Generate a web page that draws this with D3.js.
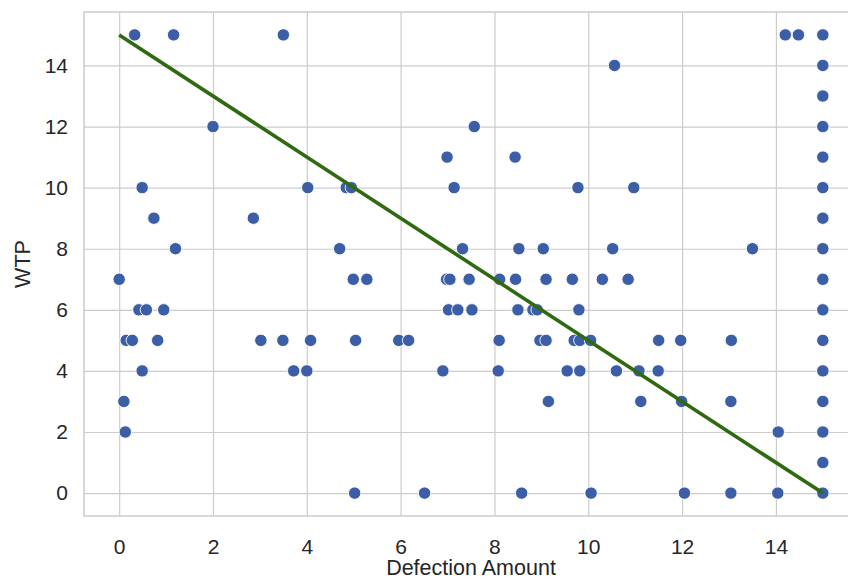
<!DOCTYPE html>
<html>
<head>
<meta charset="utf-8">
<script src="https://cdn.jsdelivr.net/npm/d3@7"></script>
<style>
  body { margin: 0; background: #fff; }
  svg { display: block; font-family: "Liberation Sans", Arial, sans-serif; }
  .grid line { stroke: #cccccc; stroke-width: 1.2; }
  .tick text { fill: #262626; font-size: 21px; }
</style>
</head>
<body>
<svg width="848" height="581"></svg>
<script>
// defection amount / WTP pairs
var defection = [
  0.33, 1.16, 3.5, 14.2, 14.48, 15,
  10.56, 15,
  15,
  2.0, 7.57, 15,
  6.99, 8.44, 15,
  0.49, 4.02, 4.84, 4.95, 7.14, 9.78, 10.97, 15,
  0.74, 2.86, 15,
  1.2, 4.7, 7.32, 8.52, 9.04, 10.52, 13.5, 15,
  0.0, 4.99, 5.28, 6.98, 7.05, 7.46, 8.11, 8.45, 9.1, 9.66, 10.3, 10.85, 15,
  0.42, 0.58, 0.95, 7.02, 7.22, 7.52, 8.5, 8.82, 8.91, 9.8, 15,
  0.15, 0.28, 0.82, 3.02, 3.49, 4.08, 5.04, 5.96, 6.17, 8.1, 8.97, 9.1, 9.7, 9.82, 10.05, 11.5, 11.97, 13.05, 15,
  0.49, 3.72, 4.0, 6.9, 8.08, 9.55, 9.82, 10.6, 11.08, 11.49, 15,
  0.1, 9.15, 11.12, 11.99, 13.04, 15,
  0.13, 14.05, 15,
  15,
  5.02, 6.51, 8.58, 10.06, 12.05, 13.04, 14.04, 15
];
var wtp = [
  15, 15, 15, 15, 15, 15,
  14, 14,
  13,
  12, 12, 12,
  11, 11, 11,
  10, 10, 10, 10, 10, 10, 10, 10,
  9, 9, 9,
  8, 8, 8, 8, 8, 8, 8, 8,
  7, 7, 7, 7, 7, 7, 7, 7, 7, 7, 7, 7, 7,
  6, 6, 6, 6, 6, 6, 6, 6, 6, 6, 6,
  5, 5, 5, 5, 5, 5, 5, 5, 5, 5, 5, 5, 5, 5, 5, 5, 5, 5, 5,
  4, 4, 4, 4, 4, 4, 4, 4, 4, 4, 4,
  3, 3, 3, 3, 3, 3,
  2, 2, 2,
  1,
  0, 0, 0, 0, 0, 0, 0, 0
];
var xTicks = [0, 2, 4, 6, 8, 10, 12, 14];
var yTicks = [0, 2, 4, 6, 8, 10, 12, 14];
var fitLine = [[0, 15], [15, 0]];

var svg = d3.select("svg"),
    margin = {top: 12, left: 84},
    width = 774,
    height = 504;

var x = d3.scaleLinear().domain([-0.75, 15.75]).range([0, width]),
    y = d3.scaleLinear().domain([-0.75, 15.75]).range([height, 0]);

var g = svg.append("g")
    .attr("transform", "translate(" + margin.left + "," + margin.top + ")");

// grid lines
g.append("g")
    .attr("class", "grid")
    .attr("transform", "translate(0," + height + ")")
    .call(d3.axisBottom(x).tickValues(xTicks).tickSize(-height).tickPadding(23))
    .call(function (a) { a.select(".domain").remove(); });

g.append("g")
    .attr("class", "grid")
    .call(d3.axisLeft(y).tickValues(yTicks).tickSize(-width).tickPadding(16))
    .call(function (a) { a.select(".domain").remove(); });

// frame
g.append("rect")
    .attr("width", width)
    .attr("height", height)
    .attr("fill", "none")
    .attr("stroke", "#cccccc")
    .attr("stroke-width", 1.5);

var points = defection.map(function (d, i) { return {x: d, y: wtp[i]}; });

g.selectAll(".dot")
    .data(points)
    .enter().append("circle")
    .attr("class", "dot")
    .attr("cx", function (d) { return x(d.x); })
    .attr("cy", function (d) { return y(d.y); })
    .attr("r", 6.2)
    .attr("fill", "#3c5ea6")
    .attr("stroke", "#ffffff")
    .attr("stroke-width", 0.9);

g.append("path")
    .datum(fitLine)
    .attr("fill", "none")
    .attr("stroke", "#2f6a10")
    .attr("stroke-width", 3.6)
    .attr("d", d3.line().x(function (d) { return x(d[0]); }).y(function (d) { return y(d[1]); }));

// axis labels
svg.append("text")
    .attr("x", 471)
    .attr("y", 575)
    .attr("text-anchor", "middle")
    .attr("fill", "#262626")
    .style("font-size", "21.5px")
    .text("Defection Amount");

svg.append("text")
    .attr("transform", "translate(30," + (margin.top + height / 2) + ") rotate(-90)")
    .attr("text-anchor", "middle")
    .attr("fill", "#262626")
    .style("font-size", "21.5px")
    .text("WTP");
</script>
</body>
</html>
